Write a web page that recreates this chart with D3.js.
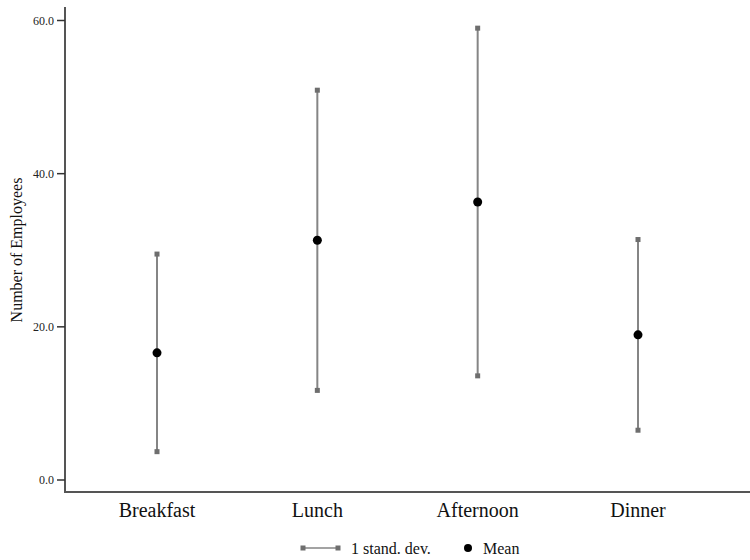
<!DOCTYPE html>
<html>
<head>
<meta charset="utf-8">
<script src="https://cdn.jsdelivr.net/npm/d3@7/dist/d3.min.js"></script>
<style>
  html, body { margin: 0; padding: 0; background: #fff; }
  svg { display: block; font-family: "Liberation Serif", "Times New Roman", serif; }
</style>
</head>
<body>
<svg id="chart" width="750" height="560"></svg>
<script>
// Meal periods and staffing statistics
const categories = ["Breakfast", "Lunch", "Afternoon", "Dinner"];
const means = [16.6, 31.3, 36.3, 18.95];
const stdDevs = [12.9, 19.6, 22.7, 12.45];
const yTicks = [0, 20, 40, 60];
const legendLabels = ["1 stand. dev.", "Mean"];

const svg = d3.select("#chart");
const W = 750, H = 560;
const axisLeft = 65, axisBottom = 492, axisTop = 7;

const y = d3.scaleLinear().domain([0, 60]).range([480, 20.5]);
const x = d3.scalePoint().domain(categories).range([157, 638]);

const rows = categories.map((c, i) => ({
  cat: c, mean: means[i], lo: means[i] - stdDevs[i], hi: means[i] + stdDevs[i]
}));

const lineColor = "#858585";
const capColor = "#6e6e6e";
const axisColor = "#555";

// Y axis
const yAxis = svg.append("g").attr("transform", `translate(${axisLeft},0)`);
yAxis.append("line")
  .attr("x1", 0).attr("x2", 0).attr("y1", axisTop).attr("y2", axisBottom)
  .attr("stroke", axisColor).attr("stroke-width", 2);
yAxis.selectAll("g.tick").data(yTicks).join("g")
  .attr("class", "tick")
  .attr("transform", d => `translate(0,${y(d)})`)
  .each(function (d) {
    const g = d3.select(this);
    g.append("line").attr("x1", -8).attr("x2", 0)
      .attr("stroke", "#333").attr("stroke-width", 1.5);
    g.append("text").attr("x", -11).attr("dy", "0.35em")
      .attr("text-anchor", "end").attr("font-size", 12).attr("fill", "#222")
      .text(d3.format(".1f")(d));
  });

// X axis
svg.append("line")
  .attr("x1", axisLeft - 1).attr("x2", W).attr("y1", axisBottom).attr("y2", axisBottom)
  .attr("stroke", axisColor).attr("stroke-width", 2);
svg.selectAll("text.xlab").data(categories).join("text")
  .attr("class", "xlab")
  .attr("x", d => x(d)).attr("y", 517)
  .attr("text-anchor", "middle").attr("font-size", 20).attr("fill", "#111")
  .text(d => d);

// Y axis title
svg.append("text")
  .attr("transform", `translate(22,250) rotate(-90)`)
  .attr("text-anchor", "middle").attr("font-size", 16).attr("fill", "#111")
  .text("Number of Employees");

// Error bars
const bars = svg.append("g");
bars.selectAll("line.err").data(rows).join("line")
  .attr("class", "err")
  .attr("x1", d => x(d.cat)).attr("x2", d => x(d.cat))
  .attr("y1", d => y(d.hi)).attr("y2", d => y(d.lo))
  .attr("stroke", lineColor).attr("stroke-width", 2);
const caps = rows.flatMap(d => [{ cat: d.cat, v: d.hi }, { cat: d.cat, v: d.lo }]);
bars.selectAll("rect.cap").data(caps).join("rect")
  .attr("class", "cap")
  .attr("x", d => x(d.cat) - 2.5).attr("y", d => y(d.v) - 2.5)
  .attr("width", 5).attr("height", 5).attr("fill", capColor);
bars.selectAll("circle.mean").data(rows).join("circle")
  .attr("class", "mean")
  .attr("cx", d => x(d.cat)).attr("cy", d => y(d.mean))
  .attr("r", 4.5).attr("fill", "#000");

// Legend
const lg = svg.append("g").attr("transform", "translate(0,548)");
lg.append("line").attr("x1", 303).attr("x2", 338).attr("y1", 0).attr("y2", 0)
  .attr("stroke", lineColor).attr("stroke-width", 1.5);
[303, 338].forEach(px => lg.append("rect")
  .attr("x", px - 2.5).attr("y", -2.5).attr("width", 5).attr("height", 5).attr("fill", capColor));
lg.append("text").attr("x", 351).attr("y", 5.5).attr("font-size", 16).attr("fill", "#111")
  .text(legendLabels[0]);
lg.append("circle").attr("cx", 468).attr("cy", 0).attr("r", 4).attr("fill", "#000");
lg.append("text").attr("x", 483).attr("y", 5.5).attr("font-size", 16).attr("fill", "#111")
  .text(legendLabels[1]);
</script>
</body>
</html>
